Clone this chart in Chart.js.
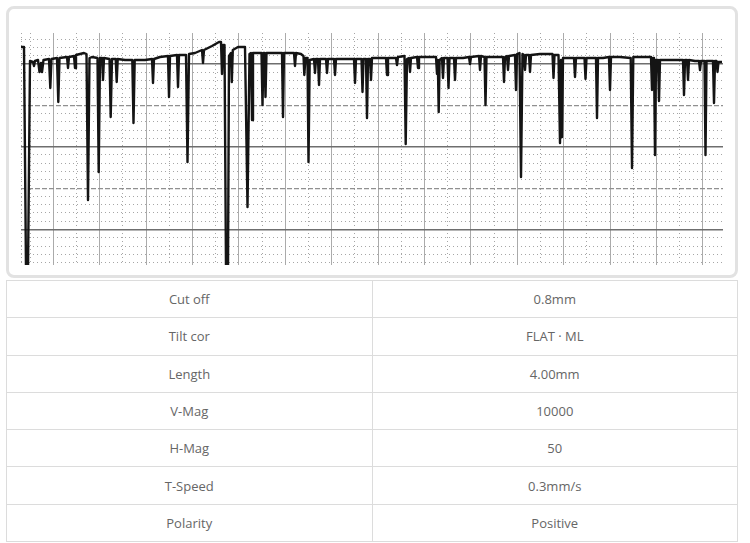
<!DOCTYPE html>
<html><head><meta charset="utf-8">
<script src="https://cdn.jsdelivr.net/npm/chart.js@4.4.1/dist/chart.umd.min.js"></script>
<style>
html,body{margin:0;padding:0;background:#fff;width:750px;height:543px;overflow:hidden;font-family:'Open Sans',sans-serif;}
#panel{position:absolute;left:6px;top:6px;width:726px;height:266px;border:3px solid #e2e2e2;border-radius:8px;}
#wrap{position:absolute;left:21px;top:33px;width:702px;height:232px;}
table{position:absolute;left:6px;top:280px;width:732px;border-collapse:collapse;}
td{border:1px solid #dcdcdc;height:36.3px;padding:0;text-align:center;font-size:13px;color:#666;width:50%;}
</style></head>
<body>
<div id="panel"></div>
<div id="wrap"><canvas id="c" width="702" height="232"></canvas></div>
<table id="tbl"></table>
<script>
// Profile trace: position along trace (chart units) and height (chart units, 0 = bottom of grid)
const profileX = [-1,3,5,7,9,12,13,14,17,18.5,20,21,22.5,28,29.3,30.5,36,37.3,38.5,46,47,48,53,54,55,63,65.5,67,68.5,71,76.5,77.7,79,81,82,83,88.5,89.7,91,94.7,95.7,96.7,104,111.3,112.5,113.7,124,131,132,133,139,147,148,149,156,157,158,165,166.5,168,174,181,182,183,191,198,200,201,202,203.5,205,207,208,210,210.8,211.8,217,224,226.5,228.5,230,231,232,240.5,241.5,242.5,243.5,244.5,245.5,254,261,262,263,269,273,274,275,280,282.5,283.3,284.5,286.5,287.5,288.7,293,294,295,297,298,299,305,306,307,313,314,315,324,333,334,335,340.5,341.5,342.5,345,346,347,349,350,351,359,365,366,367,375,376,377,383.5,384.7,386,388,389,390,396,397,398,407,415,416,416.8,417.7,418.6,421,422,423,426.5,427.5,428.5,433,434,435,442,448,449,450,458,459,460,463.5,464.5,465.5,474,482,483,484,486,487,488,494,495,496,498.5,500,501.5,503,504,505,508,509,510,519,531.5,532.5,533.5,537.5,539,540,541,542,547,553,554,555,563.5,564.5,565.5,569,575,576,577,582,588,589,590,599,609.7,611,612.3,621,630,631,632,633,634,635,637,638,639,649,662,663,664,666,667,668,674,678,679,680,683.5,684.5,685.5,689,692,693,694,695.5,696.5,697.5,701];
const profileY = [218,218,-5,-5,204,203,199,204,205,193,202,193,205,206,177,206,207,163,207,208,197,208,209,197,210,212,211,65,207,208,207,93,207,207,185,207,206,148,206,206,183,206,205,205,142,205,205,206,182,206,208,209,168,209,210,178,210,210,103,211,212,215,202,215,219,223,223,191,220,220,-5,-5,209,212,183,215,218,218,58,211,212,145,212,212,160,212,212,168,212,212,212,148,212,212,212,199,212,211,209,190,207,207,103,205,206,192,206,206,180,206,206,192,206,206,190,206,206,206,182,206,206,173,206,206,147,206,206,185,207,207,207,190,207,207,200,208,209,121,206,207,193,207,208,197,208,208,208,191,205,153,205,207,187,207,207,177,207,207,185,207,207,208,201,208,209,195,209,208,160,208,208,208,183,208,209,195,209,210,175,211,212,88,211,210,195,210,210,193,210,211,211,187,210,210,122,205,128,207,207,207,188,207,207,186,207,207,207,147,207,207,208,175,208,208,207,97,208,208,208,175,207,207,110,205,205,164,205,205,205,170,205,205,185,205,204,204,195,204,204,110,204,204,204,162,204,204,193,203,203];

// Chart sheet grid
const X_RANGE = [0, 702], Y_RANGE = [0, 232];
const X_GRID_START = 9, X_GRID_STEP = 23.2, X_GRID_COUNT = 30;
const Y_GRID_START = 2.38, Y_GRID_STEP = 8.28, Y_GRID_COUNT = 28;

// Measurement conditions table
const condLabels = ['Cut off','Tilt cor','Length','V-Mag','H-Mag','T-Speed','Polarity'];
const condValues = ['0.8mm','FLAT · ML','4.00mm','10000','50','0.3mm/s','Positive'];

const tbl = document.getElementById('tbl');
condLabels.forEach((l,i)=>{
  const tr=document.createElement('tr');
  const a=document.createElement('td'); a.textContent=l;
  const b=document.createElement('td'); b.textContent=condValues[i];
  tr.appendChild(a); tr.appendChild(b); tbl.appendChild(tr);
});

const xKinds = [], xVals = [0];
xKinds.push('dot');
for (let k=0;k<X_GRID_COUNT;k++){ xVals.push(X_GRID_START+k*X_GRID_STEP); xKinds.push(k%2? 'solid':'dot'); }
const yKinds = [], yVals = [];
for (let k=0;k<Y_GRID_COUNT;k++){ yVals.push(Y_GRID_START+k*Y_GRID_STEP); yKinds.push(k%10===4?'solid':(k%10===9?'dash':'dot')); }

const style = {
  solid:{c:'#6e6e6e',w:1.6,d:[]},
  dash:{c:'#909090',w:1.2,d:[5,2]},
  dot:{c:'#a6a6a6',w:1,d:[1,3]}
};
const xStyle = {solid:{c:'#ababab',w:1,d:[]}, dot:{c:'#a6a6a6',w:1,d:[1,3]}};

new Chart(document.getElementById('c'), {
  type:'line',
  data:{datasets:[{
    data: profileX.map((x,i)=>({x:x,y:profileY[i]})),
    borderColor:'#141414', borderWidth:2.4, pointRadius:0, tension:0,
    borderJoinStyle:'round', clip:0, fill:false
  }]},
  options:{
    responsive:false, animation:false, devicePixelRatio:1,
    layout:{padding:0},
    plugins:{legend:{display:false},tooltip:{enabled:false}},
    scales:{
      x:{type:'linear', min:X_RANGE[0], max:X_RANGE[1],
        afterBuildTicks:s=>{s.ticks=xVals.map(v=>({value:v}));},
        ticks:{display:false},
        border:{display:false, dash:ctx=>xStyle[xKinds[ctx.index]||'dot'].d},
        grid:{drawTicks:false, color:ctx=>xStyle[xKinds[ctx.index]||'dot'].c, lineWidth:ctx=>xStyle[xKinds[ctx.index]||'dot'].w}
      },
      y:{type:'linear', min:Y_RANGE[0], max:Y_RANGE[1],
        afterBuildTicks:s=>{s.ticks=yVals.map(v=>({value:v}));},
        ticks:{display:false},
        border:{display:false, dash:ctx=>style[yKinds[ctx.index]||'dot'].d},
        grid:{drawTicks:false, color:ctx=>style[yKinds[ctx.index]||'dot'].c, lineWidth:ctx=>style[yKinds[ctx.index]||'dot'].w}
      }
    }
  }
});
</script>
</body></html>
